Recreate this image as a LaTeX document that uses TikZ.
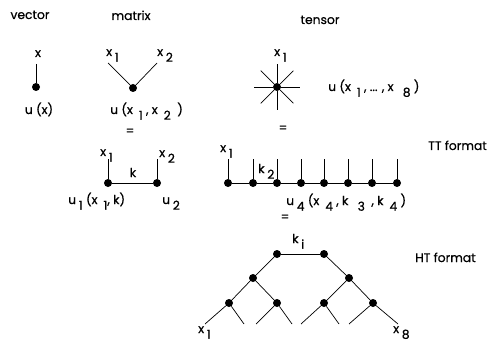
\documentclass[tikz,border=0pt]{standalone}
\usepackage{fontspec}
\setmainfont{Poppins}[FakeBold=0.6]
\usetikzlibrary{positioning,calc}
\newcommand{\dn}[1]{\hspace{0.22em}\raisebox{-0.85ex}{#1}}

\begin{document}
\begin{tikzpicture}[x=0.03cm, y=-0.03cm,
    dot/.style={circle, fill=black, inner sep=0pt, minimum size=0.24cm},
    lbl/.style={inner sep=0pt, font=\fontsize{10.5}{12}\selectfont},
    lw/.style={lbl, anchor=base west},
    edge/.style={line width=0.6pt}
]
\useasboundingbox (0,0) rectangle (488,343);

% titles
\node[lbl, anchor=base] (vec) at (30,19) {vector};
\node[lbl, anchor=base] (mat) at (131,20) {matrix};
\node[lbl, anchor=base] (ten) at (320,24) {tensor};

% vector
\node[dot] (v) at (36,87) {};
\coordinate (vtop) at (36,64);
\draw[edge] (vtop) -- (v);
\node[lbl, anchor=base] (vx) at (38,57) {x};
\node[lbl, anchor=base] (vu) at (39,114) {u (x)};

% matrix
\node[dot] (m) at (133,88) {};
\coordinate (ml) at (108,63);
\coordinate (mr) at (157,63);
\draw[edge] (ml) -- (m) -- (mr);
\node[lw] (mx1) at (106,56) {x\dn{1}};
\node[lw] (mx2) at (157,56) {x\dn{2}};
\node[lw] (mu) at (110,114) {u (x \dn{1} , x \dn{2} \ )};
\node[lbl, anchor=base] (meq) at (130,135) {=};

% matrix as two cores
\node[dot] (a1) at (108,183) {};
\node[dot] (a2) at (157,183) {};
\coordinate (a1top) at (108,159);
\coordinate (a2top) at (157,159);
\draw[edge] (a1top) -- (a1) -- (a2) -- (a2top);
\node[lw] (ax1) at (100,156) {x\dn{1}};
\node[lw] (ax2) at (159,157) {x\dn{2}};
\node[lbl, anchor=base] (ak) at (133,177) {k};
\node[lw] (au1) at (68,204) {u\dn{1} (x \dn{1}, k)};
\node[lw] (au2) at (162,204) {u\dn{2}};

% tensor
\node[dot] (t) at (277,87) {};
\foreach \a in {0,45,...,315}{
    \coordinate (t\a) at ([shift={(\a:23)}]t.center);
    \draw[edge] (t) -- (t\a);
}
\node[lw] (tx1) at (274,56) {x\dn{1}};
\node[lw] (tu) at (328,91) {u (x \dn{1} , ... , x \ \dn{8} )};
\node[lbl, anchor=base] (teq) at (283,132) {=};

% TT format
\foreach \i/\x in {1/228,2/253,3/277,4/301,5/324,6/348,7/372,8/397}{
    \node[dot] (c\i) at (\x,183) {};
    \coordinate (c\i top) at (\x,159);
    \draw[edge] (c\i top) -- (c\i);
}
\foreach \i [evaluate=\i as \j using int(\i+1)] in {1,...,7}
    \draw[edge] (c\i) -- (c\j);
\node[lw] (ttx1) at (220,152) {x\dn{1}};
\node[lw] (ttk2) at (258,173) {k\dn{2}};
\node[lw] (ttu4) at (286,205) {u\dn{4} (x \dn{4} , k \ \dn{3} \ , k \dn{4} )};
\node[lbl, anchor=base] (tteq) at (285,221) {=};
\node[lw] (ttname) at (428,150) {TT format};

% HT format
\node[dot] (h1) at (277,254) {};
\node[dot] (h2) at (324,254) {};
\node[dot] (h3) at (253,278) {};
\node[dot] (h4) at (349,278) {};
\node[dot] (h5) at (229,303) {};
\node[dot] (h6) at (277,303) {};
\node[dot] (h7) at (324,303) {};
\node[dot] (h8) at (373,303) {};
\draw[edge] (h1) -- (h2);
\draw[edge] (h1) -- (h3);
\draw[edge] (h2) -- (h4);
\draw[edge] (h3) -- (h5);
\draw[edge] (h3) -- (h6);
\draw[edge] (h4) -- (h7);
\draw[edge] (h4) -- (h8);
\foreach \n/\l/\r in {5/205/244,6/256/292,7/301/339,8/349/398}{
    \coordinate (h\n l) at (\l,324);
    \coordinate (h\n r) at (\r,324);
    \draw[edge] (h\n l) -- (h\n) -- (h\n r);
}
\node[lw] (hki) at (292,243) {k\dn{i}};
\node[lw] (htname) at (415,262) {HT format};
\node[lw] (hx1) at (198,333) {x\dn{1}};
\node[lw] (hx8) at (393,333) {x\dn{8}};
\end{tikzpicture}
\end{document}
